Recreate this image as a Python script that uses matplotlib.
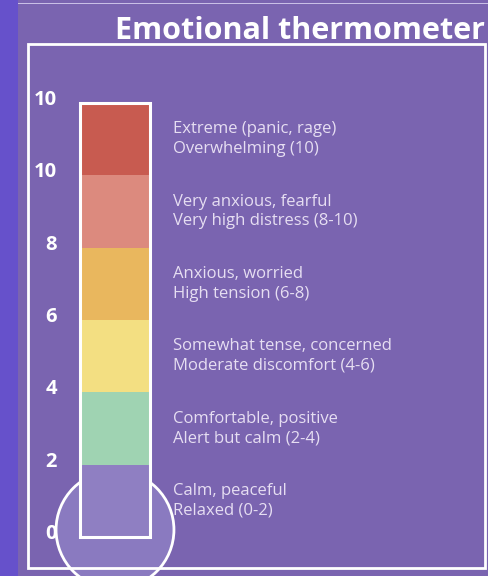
import matplotlib
matplotlib.use("Agg")
import matplotlib.pyplot as plt
from matplotlib.patches import Rectangle, Circle

# ---- data ----
segment_bottoms = [0, 1, 2, 3, 4, 5]
segment_heights = [1, 1, 1, 1, 1, 1]
segment_colors = ["#8f7fc2", "#9fd3b2", "#f3df82", "#e9b75e", "#dc8a7e", "#c85b50"]
segment_labels = [
    "Calm, peaceful\nRelaxed (0-2)",
    "Comfortable, positive\nAlert but calm (2-4)",
    "Somewhat tense, concerned\nModerate discomfort (4-6)",
    "Anxious, worried\nHigh tension (6-8)",
    "Very anxious, fearful\nVery high distress (8-10)",
    "Extreme (panic, rage)\nOverwhelming (10)",
]
tick_positions = [0, 1, 2, 3, 4, 5, 6]
tick_labels = ["0", "2", "4", "6", "8", "10", "10"]
title = "Emotional thermometer"

plt.rcParams['font.family'] = ['Open Sans', 'DejaVu Sans']

W, H = 489, 576
fig = plt.figure(figsize=(W / 100, H / 100), dpi=100)
fig.patch.set_facecolor("#7a64b0")

# left strip and top hairline
fig.add_artist(Rectangle((0, 0), 18 / W, 1, transform=fig.transFigure,
                         facecolor="#6651cb", edgecolor="none", zorder=0))
fig.add_artist(Rectangle((18 / W, 1 - 4 / H), 1, 1.5 / H, transform=fig.transFigure,
                         facecolor="#c9bfe6", edgecolor="none", zorder=0))

unit = 72.33
cx, y0 = 115, 537
ax = fig.add_axes([0, 0, 1, 1])
ax.set_xlim(-cx / unit, (W - cx) / unit)
ax.set_ylim(-(H - y0) / unit, y0 / unit)
ax.set_facecolor("none")
ax.axis("off")

# frame
fig.add_artist(Rectangle((28 / W, 1 - 568 / H), (485 - 28) / W, (568 - 44) / H,
                         transform=fig.transFigure, facecolor="none",
                         edgecolor="white", lw=2, zorder=1))

# bulb
ax.add_patch(Circle((0, 0.1), 0.815, facecolor="#8a7ac0", edgecolor="white",
                    lw=2, zorder=2))

bar_w = 70 / unit
ax.bar([0] * len(segment_bottoms), segment_heights, bottom=segment_bottoms,
       width=bar_w, color=segment_colors, edgecolor="none", zorder=3)
ax.add_patch(Rectangle((-bar_w / 2, 0), bar_w, 6, facecolor="none",
                       edgecolor="white", lw=2.2, zorder=4))

for b, h, lab in zip(segment_bottoms, segment_heights, segment_labels):
    ax.text(0.80, b + h / 2, lab, ha="left", va="center", color="#e6def2",
            fontsize=12, linespacing=1.3, zorder=5)

for p, t in zip(tick_positions, tick_labels):
    ax.text(-0.80, p + 0.04, t, ha="right", va="center", color="white",
            fontsize=14.5, fontweight="bold", zorder=1.5)

fig.text(300 / W, 1 - 31 / H, title, ha="center", va="center", color="white",
         fontsize=22, fontweight="bold")

fig.savefig("out.png", dpi=100, facecolor=fig.get_facecolor())
